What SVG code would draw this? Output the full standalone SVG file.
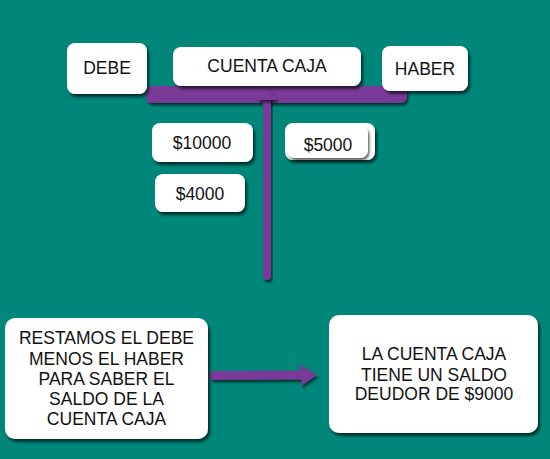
<svg xmlns="http://www.w3.org/2000/svg" width="550" height="459" viewBox="0 0 550 459">
  <defs>
    <filter id="sh" x="-20%" y="-20%" width="140%" height="150%">
      <feDropShadow dx="2" dy="3" stdDeviation="1.5" flood-color="#000" flood-opacity="0.65"/>
    </filter>
    <filter id="shl" x="-20%" y="-20%" width="140%" height="160%">
      <feDropShadow dx="1.5" dy="2.5" stdDeviation="1" flood-color="#000" flood-opacity="0.6"/>
    </filter>
  </defs>
  <style>
    .box { fill: #ffffff; filter: url(#sh); }
    .t { font-family: "Liberation Sans", Arial, sans-serif; font-size: 17.5px; fill: #111; text-anchor: middle; }
    .pur { fill: #7a3a98; }
  </style>
  <rect x="0" y="0" width="550" height="459" fill="#00877a"/>

  <g id="connectors">
    <rect class="pur" x="146" y="86" width="261" height="17" rx="6" filter="url(#shl)"/>
    <path class="pur" d="M263,97 L263,276 A4,4 0 0 0 271,276 L271,97 Z" filter="url(#shl)"/>
    <polygon class="pur" points="267,87 277,100 257,100" filter="url(#shl)"/>
    <path id="arrow-bottom" class="pur" d="M214,371 L301,370.5 L299,364 L317,375 L301,386 L302,379.5 L214,380 A4.5,4.5 0 0 1 214,371 Z" filter="url(#shl)"/>
  </g>

  <g id="debe">
    <rect class="box" x="67" y="43" width="80" height="51" rx="8"/>
    <text class="t" x="107" y="74">DEBE</text>
  </g>
  <g id="cuenta-caja">
    <rect class="box" x="173" y="47" width="188" height="39" rx="8"/>
    <text class="t" x="267" y="72">CUENTA CAJA</text>
  </g>
  <g id="haber">
    <rect class="box" x="382" y="46" width="86" height="45" rx="8"/>
    <text class="t" x="425" y="75">HABER</text>
  </g>
  <g id="d10000">
    <rect class="box" x="152" y="123" width="101" height="39" rx="8"/>
    <text class="t" x="202" y="149">$10000</text>
  </g>
  <g id="d4000">
    <rect class="box" x="155" y="174" width="90" height="38" rx="8"/>
    <text class="t" x="200" y="200">$4000</text>
  </g>
  <g id="h5000">
    <rect class="box" x="285" y="123" width="90" height="37" rx="8"/>
    <rect x="287" y="125" width="81" height="33" rx="8" fill="#fff" filter="url(#shl)"/>
    <text class="t" x="328" y="151">$5000</text>
  </g>
  <g id="restamos">
    <rect class="box" x="5" y="318" width="203" height="121" rx="10"/>
    <text class="t" x="106.5" y="344">RESTAMOS EL DEBE</text>
    <text class="t" x="106.5" y="364.5">MENOS EL HABER</text>
    <text class="t" x="106.5" y="385">PARA SABER EL</text>
    <text class="t" x="106.5" y="405">SALDO DE LA</text>
    <text class="t" x="106.5" y="425">CUENTA CAJA</text>
  </g>
  <g id="resultado">
    <rect class="box" x="329" y="315" width="209" height="118" rx="10"/>
    <text class="t" x="434" y="360">LA CUENTA CAJA</text>
    <text class="t" x="434" y="380.5">TIENE UN SALDO</text>
    <text class="t" x="434" y="400">DEUDOR DE $9000</text>
  </g>
</svg>
